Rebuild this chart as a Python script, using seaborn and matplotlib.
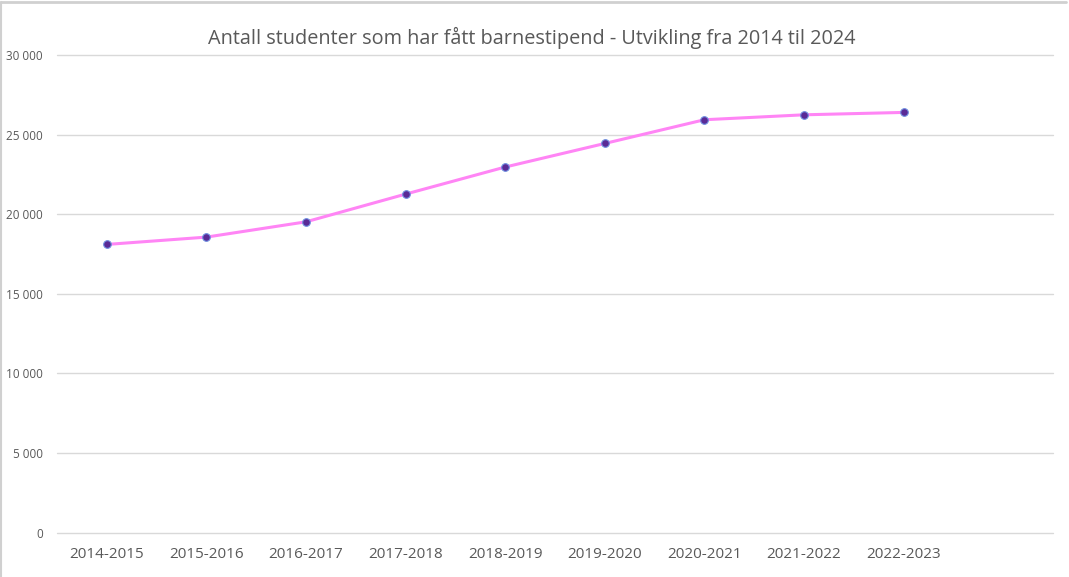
import numpy as np
import matplotlib.pyplot as plt
import seaborn as sns
import pandas as pd
from matplotlib.lines import Line2D

# Data
years = ['2014-2015', '2015-2016', '2016-2017', '2017-2018', '2018-2019',
         '2019-2020', '2020-2021', '2021-2022', '2022-2023']
students = [18100, 18560, 19520, 21260, 22960, 24440, 25930, 26240, 26390]
y_ticks = [0, 5000, 10000, 15000, 20000, 25000, 30000]
y_labels = ['0', '5 000', '10 000', '15 000', '20 000', '25 000', '30 000']

df = pd.DataFrame({'pos': range(len(years)), 'year': years, 'students': students})

sns.set_theme(style='white')
plt.rcParams['font.family'] = ['Open Sans', 'DejaVu Sans']

fig = plt.figure(figsize=(10.69, 5.77), dpi=100)
ax = fig.add_axes([0.0533, 0.0768, 0.9317, 0.828])

# Line with markers
sns.lineplot(data=df, x='pos', y='students', color='#FF85F5', linewidth=2.2,
             marker='o', markersize=5.5, markerfacecolor='#5A2A96',
             markeredgecolor='#6F8FE0', markeredgewidth=0.8, ax=ax, zorder=3)

ax.set_xlim(-0.5, 9.5)
ax.set_ylim(0, 30000)
ax.set_yticks(y_ticks)
ax.set_yticklabels(y_labels, fontsize=8.5, color='#595959')
ax.set_xticks(df['pos'])
ax.set_xticklabels(years, fontsize=11, color='#595959')
ax.tick_params(axis='both', length=0)
ax.tick_params(axis='y', pad=10)
ax.tick_params(axis='x', pad=10)
ax.set_xlabel('')
ax.set_ylabel('')

ax.grid(axis='y', color='#D9D9D9', linewidth=1)
for gl in ax.get_ygridlines():
    gl.set_clip_on(False)
ax.set_axisbelow(True)
sns.despine(ax=ax, left=True, bottom=True)

fig.text(0.497, 0.934, 'Antall studenter som har fått barnestipend - Utvikling fra 2014 til 2024',
         ha='center', va='center', fontsize=14.3, color='#595959')

# Light frame of the screenshot, top and left edges
fig.add_artist(Line2D([0.001, 0.997], [0.997, 0.997], transform=fig.transFigure,
                      color='#D0D0D0', linewidth=2))
fig.add_artist(Line2D([0.001, 0.001], [0.0, 0.997], transform=fig.transFigure,
                      color='#D0D0D0', linewidth=1.5))

plt.savefig('out.png', dpi=100)
